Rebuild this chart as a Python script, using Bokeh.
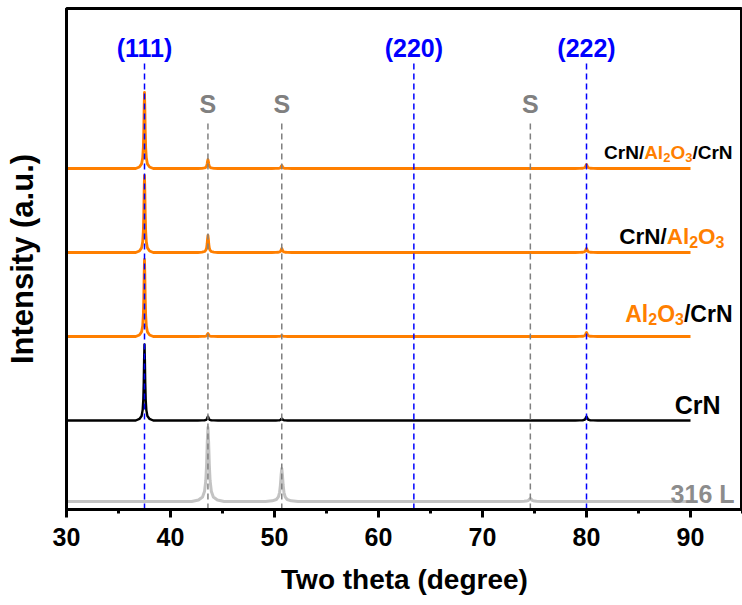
import numpy as np
from bokeh.plotting import figure
from bokeh.models import ColumnDataSource, Range1d, FixedTicker, SingleIntervalTicker
from bokeh.embed import file_html
from bokeh.resources import INLINE
from bokeh.core.properties import value

# ---------------- data ----------------
two_theta_start = 30.0
two_theta_end = 90.0

series_names = ["316 L", "CrN", "Al2O3/CrN", "CrN/Al2O3", "CrN/Al2O3/CrN"]
series_offsets = [8, 89, 173, 257, 341]          # stacked baseline (a.u.)

pk_316L_pos = [43.6, 50.7, 74.6]
pk_316L_h = [74, 33, 3]
pk_316L_hw = [0.13, 0.13, 0.15]

pk_CrN_pos = [37.5, 43.6, 50.7, 80.0]
pk_CrN_h = [76, 4, 2, 4]
pk_CrN_hw = [0.07, 0.08, 0.08, 0.09]

pk_AC_pos = [37.5, 43.6, 50.7, 80.0]
pk_AC_h = [77, 3, 1, 4]
pk_AC_hw = [0.07, 0.08, 0.08, 0.09]

pk_CA_pos = [37.5, 43.6, 50.7, 80.0]
pk_CA_h = [77, 17, 4, 4]
pk_CA_hw = [0.07, 0.08, 0.08, 0.09]

pk_CAC_pos = [37.5, 43.6, 50.7, 80.0]
pk_CAC_h = [76, 9, 3, 4]
pk_CAC_hw = [0.07, 0.08, 0.08, 0.09]

# peak profile (distance in half-widths -> fraction)
profile_u = [0, 0.5, 1.0, 1.6, 2.5, 4.0, 7.0, 12.0]
profile_f = [1.0, 0.8, 0.5, 0.28, 0.14, 0.06, 0.02, 0.0]

hkl_labels = ["(111)", "(220)", "(222)"]
hkl_pos = [37.5, 63.4, 80.0]
sub_labels = ["S", "S", "S"]
sub_pos = [43.6, 50.7, 74.6]

ORANGE = "#FF7F00"
BLACK = "#000000"
GRAY_LINE = "#C3C3C3"
GRAY_TEXT = "#8C8C8C"
BLUE = "#0000FF"
FONT = "Liberation Sans"


def build_trace(offset, pos, h, hw):
    xs = {two_theta_start, two_theta_end}
    for p, w in zip(pos, hw):
        for u in profile_u:
            xs.add(p - u * w)
            xs.add(p + u * w)
    x = np.array(sorted(xs))
    y = np.full_like(x, float(offset))
    for p, hh, w in zip(pos, h, hw):
        y += hh * np.interp(np.abs(x - p) / w, profile_u, profile_f, right=0.0)
    return x, y


p = figure(
    frame_width=676, frame_height=501,
    min_border_left=66, min_border_right=0, min_border_top=8, min_border_bottom=92,
    x_range=Range1d(30, 95), y_range=Range1d(0, 501),
    output_backend="svg", toolbar_location=None,
)
p.xgrid.visible = False
p.ygrid.visible = False
p.outline_line_color = "black"
p.outline_line_width = 3
p.background_fill_color = "white"
p.border_fill_color = "white"

traces = [
    (series_offsets[0], pk_316L_pos, pk_316L_h, pk_316L_hw, GRAY_LINE, 3.0),
    (series_offsets[1], pk_CrN_pos, pk_CrN_h, pk_CrN_hw, BLACK, 2.4),
    (series_offsets[2], pk_AC_pos, pk_AC_h, pk_AC_hw, ORANGE, 2.8),
    (series_offsets[3], pk_CA_pos, pk_CA_h, pk_CA_hw, ORANGE, 2.8),
    (series_offsets[4], pk_CAC_pos, pk_CAC_h, pk_CAC_hw, ORANGE, 2.8),
]
for off, pos, h, hw, col, lw in traces:
    x, y = build_trace(off, pos, h, hw)
    p.line(x, y, line_color=col, line_width=lw, line_join="round")

# reference dashed lines
p.segment(x0=hkl_pos, x1=hkl_pos, y0=[0] * 3, y1=[448] * 3,
          line_color=BLUE, line_width=1.5, line_dash="6 4")
p.segment(x0=sub_pos, x1=sub_pos, y0=[0] * 3, y1=[387] * 3,
          line_color="#808080", line_width=1.5, line_dash="6 4")

p.text(x=hkl_pos, y=[462] * 3, text=hkl_labels, text_color=BLUE,
       text_font=value(FONT), text_font_style="bold", text_font_size="25px",
       text_align="center", text_baseline="middle")
p.text(x=sub_pos, y=[406] * 3, text=sub_labels, text_color="#808080",
       text_font=value(FONT), text_font_style="bold", text_font_size="25px",
       text_align="center", text_baseline="middle")

# series labels built from pieces (text, colour, subscript?)
ARIAL_BOLD = {'C': 722, 'r': 389, 'N': 722, '/': 278, 'A': 722, 'l': 278, 'O': 778,
              '2': 556, '3': 556, '1': 556, '6': 556, ' ': 278, 'L': 611}


def tw(s, size):
    return sum(ARIAL_BOLD[c] for c in s) * size / 1000.0


label_specs = [
    # pieces, main size, sub size, right offset from frame edge (px), baseline y (data)
    ([("316 L", GRAY_TEXT, False)], 25, 16, -8, 16),
    ([("CrN", BLACK, False)], 25, 16, -22, 105),
    ([("Al", ORANGE, False), ("2", ORANGE, True), ("O", ORANGE, False), ("3", ORANGE, True),
      ("/CrN", BLACK, False)], 23, 16, -10, 196),
    ([("CrN/", BLACK, False), ("Al", ORANGE, False), ("2", ORANGE, True), ("O", ORANGE, False),
      ("3", ORANGE, True)], 22.5, 16, -18, 273),
    ([("CrN/", BLACK, False), ("Al", ORANGE, False), ("2", ORANGE, True), ("O", ORANGE, False),
      ("3", ORANGE, True), ("/CrN", BLACK, False)], 19, 13, -10, 357),
]
lab = dict(x=[], y=[], text=[], color=[], size=[], xo=[], yo=[])
for pieces, ms, ss, right, yb in label_specs:
    total = sum(tw(t, ss if sub else ms) for t, _, sub in pieces)
    cur = right - total
    for t, c, sub in pieces:
        sz = ss if sub else ms
        lab["x"].append(95)
        lab["y"].append(yb)
        lab["text"].append(t)
        lab["color"].append(c)
        lab["size"].append(f"{sz}px")
        lab["xo"].append(cur)
        lab["yo"].append(ms * 0.25 if sub else 0)
        cur += tw(t, sz)
src = ColumnDataSource(lab)
p.text(x="x", y="y", text="text", text_color="color", text_font_size="size",
       x_offset="xo", y_offset="yo", source=src, text_font=value(FONT),
       text_font_style="bold", text_align="left", text_baseline="alphabetic")

# axes
xa = p.xaxis[0]
xa.ticker = SingleIntervalTicker(interval=10, num_minor_ticks=2)
xa.axis_line_width = 3
xa.major_tick_line_width = 3
xa.minor_tick_line_width = 3
xa.major_tick_out = 8
xa.major_tick_in = 0
xa.minor_tick_out = 4
xa.minor_tick_in = 0
xa.major_label_text_font = FONT
xa.major_label_text_font_style = "bold"
xa.major_label_text_font_size = "25px"
xa.major_label_text_color = "black"
xa.major_label_standoff = 10
xa.axis_label = "Two theta (degree)"
xa.axis_label_text_font = FONT
xa.axis_label_text_font_style = "bold"
xa.axis_label_text_font_size = "28px"
xa.axis_label_text_color = "black"
xa.axis_label_standoff = 15

ya = p.yaxis[0]
ya.ticker = FixedTicker(ticks=[])
ya.axis_line_width = 3
ya.axis_label = "Intensity (a.u.)"
ya.axis_label_text_font = FONT
ya.axis_label_text_font_style = "bold"
ya.axis_label_text_font_size = "31px"
ya.axis_label_text_color = "black"
ya.axis_label_standoff = 27

open("out.html", "w").write(file_html(p, INLINE))
